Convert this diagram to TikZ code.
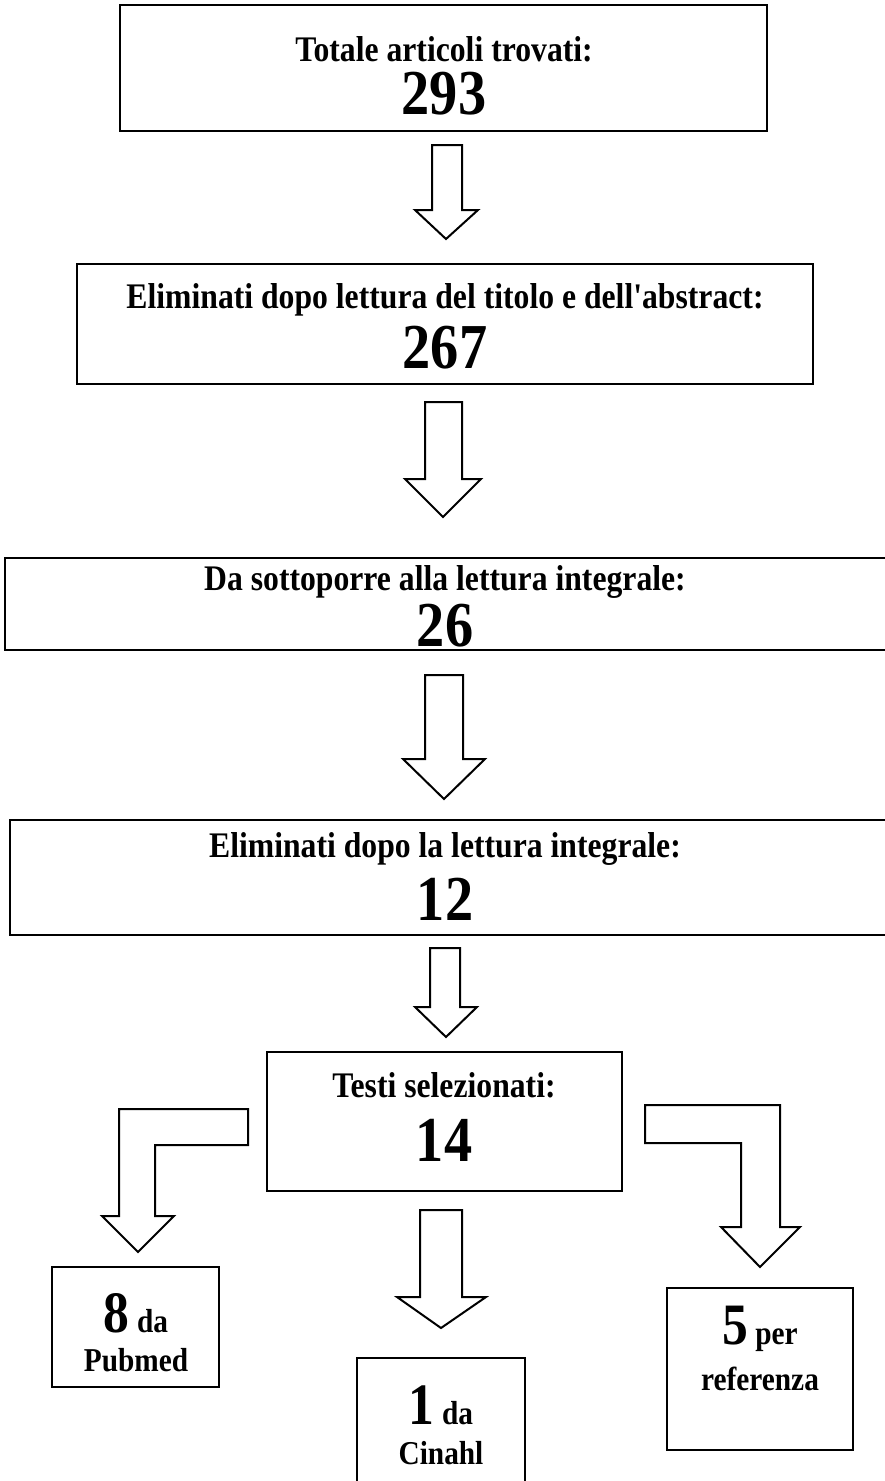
\documentclass[tikz,border=0pt]{standalone}
\usepackage{fontspec}
\setmainfont{Liberation Serif}[Ligatures=TeXOff,FakeStretch=0.88]
\usetikzlibrary{fit}
\begin{document}
\begin{tikzpicture}[x=0.75pt,y=-0.75pt,
  box/.style={draw=black,line width=1.9pt,inner sep=0pt},
  blockarrow/.style={draw=black,line width=1.5pt,fill=white,line join=miter},
  head/.style={font=\bfseries\fontsize{27}{31}\selectfont,inner sep=0pt},
  num/.style={font=\bfseries\fontsize{48}{52}\selectfont,inner sep=0pt},
  small/.style={font=\bfseries\fontsize{25}{29}\selectfont,inner sep=0pt},
]
\newcommand{\bigdigit}[1]{{\fontsize{44}{48}\selectfont #1}}
\useasboundingbox (0,0) rectangle (885,1481);
% boxes
\node[box,fit={(120,5) (767,131)}] (b1) {};
\node[head] (t1) at (444,49) {Totale articoli trovati:};
\node[num] (n1) at (444,94) {293};

\node[box,fit={(77,264) (813,384)}] (b2) {};
\node[head] (t2) at (445,300) {Eliminati dopo lettura del titolo e dell'abstract:};
\node[num] (n2) at (445,348) {267};

\node[box,fit={(5,558) (900,650)}] (b3) {};
\node[head] (t3) at (445,582) {Da sottoporre alla lettura integrale:};
\node[num] (n3) at (445,626) {26};

\node[box,fit={(10,820) (900,935)}] (b4) {};
\node[head] (t4) at (445,849) {Eliminati dopo la lettura integrale:};
\node[num] (n4) at (445,899) {12};

\node[box,fit={(267,1052) (622,1191)}] (b5) {};
\node[head] (t5) at (444,1085) {Testi selezionati:};
\node[num] (n5) at (444,1140) {14};

\node[box,fit={(52,1267) (219,1387)}] (b6) {};
\node[small] (t6a) at (136,1313) {\bigdigit{8} da};
\node[small] (t6b) at (136,1360) {Pubmed};

\node[box,fit={(357,1358) (525,1520)}] (b7) {};
\node[small] (t7a) at (441,1405) {\bigdigit{1} da};
\node[small] (t7b) at (441,1453) {Cinahl};

\node[box,fit={(667,1288) (853,1450)}] (b8) {};
\node[small] (t8a) at (760,1329) {\bigdigit{5} per};
\node[small] (t8b) at (760,1379) {referenza};

% straight block arrows
\draw[blockarrow] (432,145) -- (462,145) -- (462,210) -- (478,210) -- (446,239) -- (415,210) -- (432,210) -- cycle;
\draw[blockarrow] (425,402) -- (462,402) -- (462,479) -- (481,479) -- (443,517) -- (405,479) -- (425,479) -- cycle;
\draw[blockarrow] (425,675) -- (463,675) -- (463,759) -- (485,759) -- (444,799) -- (403,759) -- (425,759) -- cycle;
\draw[blockarrow] (430,948) -- (460,948) -- (460,1007) -- (477,1007) -- (446,1037) -- (415,1007) -- (430,1007) -- cycle;
\draw[blockarrow] (420,1210) -- (462,1210) -- (462,1297) -- (486,1297) -- (441,1328) -- (397,1297) -- (420,1297) -- cycle;
% bent block arrows
\draw[blockarrow] (248,1109) -- (248,1145) -- (155,1145) -- (155,1216) -- (174,1216) -- (138,1252) -- (102,1216) -- (119,1216) -- (119,1109) -- cycle;
\draw[blockarrow] (645,1105) -- (780,1105) -- (780,1227) -- (800,1227) -- (760,1267) -- (721,1227) -- (741,1227) -- (741,1143) -- (645,1143) -- cycle;
\end{tikzpicture}
\end{document}
